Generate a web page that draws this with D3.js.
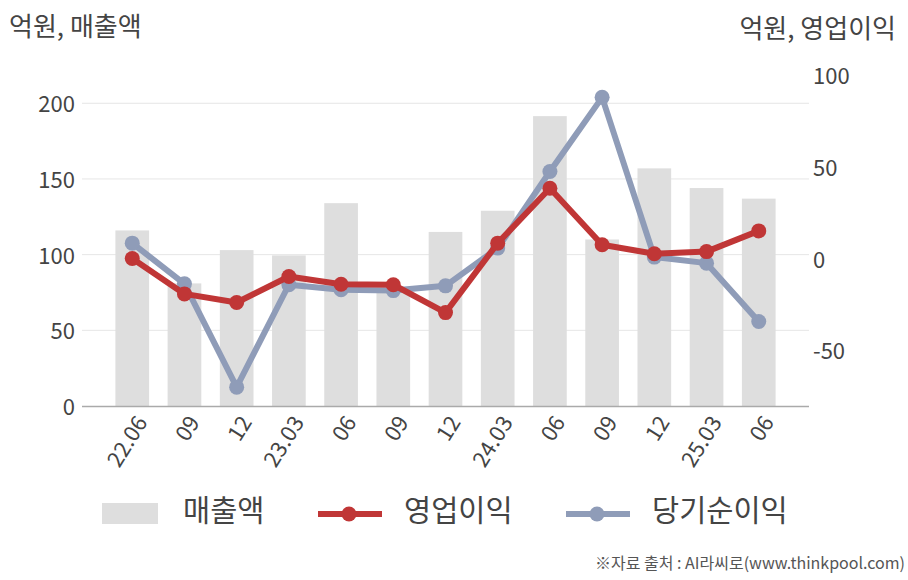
<!DOCTYPE html>
<html>
<head>
<meta charset="utf-8">
<title>매출액 / 영업이익 / 당기순이익</title>
<script src="https://cdn.jsdelivr.net/npm/d3@7/dist/d3.min.js"></script>
<style>
	html, body { margin: 0; padding: 0; background: white; }
	body { font-family: 'Noto Sans CJK KR', 'Noto Sans', sans-serif; }
	text { fill: #444; }
</style>
</head>
<body>
<div id="vis"></div>
<script>

var quarters = ["22.06", "09", "12", "23.03", "06", "09", "12", "24.03", "06", "09", "12", "25.03", "06"];
var sales = [116, 81, 103, 99.5, 134, 77, 115, 129, 191.5, 110, 157, 144, 137];
var opProfit = [0, -19.3, -24, -9.8, -14, -14.3, -29.5, 8.4, 38.4, 7.5, 2.6, 3.8, 15.1];
var netProfit = [8.4, -13.8, -70.2, -14.3, -17, -17.5, -14.9, 5.7, 47.5, 88, 0.8, -2.5, -34.4];
var leftTicks = [0, 50, 100, 150, 200];
var rightTicks = [-50, 0, 50, 100];

var width = 908, height = 580;
var plotLeft = 82, plotRight = 809, plotTop = 73, plotBottom = 406;

var svg = d3.select("#vis").append("svg")
	.attr("width", width)
	.attr("height", height);

var x = d3.scaleBand()
	.domain(d3.range(quarters.length))
	.range([plotLeft, plotRight])
	.paddingInner(0.355)
	.paddingOuter(0.64);

var yL = d3.scaleLinear().domain([0, 220]).range([plotBottom, plotTop]);
var yR = d3.scaleLinear().domain([-80.5, 101.3]).range([plotBottom, plotTop]);

// grid
svg.append("g")
	.selectAll("line")
	.data(leftTicks.slice(1))
	.join("line")
	.attr("x1", plotLeft)
	.attr("x2", plotRight)
	.attr("y1", d => yL(d))
	.attr("y2", d => yL(d))
	.attr("stroke", "#e6e6e6")
	.attr("stroke-width", 1);

// left axis labels
svg.append("g")
	.selectAll("text")
	.data(leftTicks)
	.join("text")
	.attr("x", 75)
	.attr("y", d => yL(d) + 3)
	.attr("text-anchor", "end")
	.attr("dominant-baseline", "middle")
	.style("font-size", "22px")
	.text(d => d);

// right axis labels
svg.append("g")
	.selectAll("text")
	.data(rightTicks)
	.join("text")
	.attr("x", 813)
	.attr("y", d => yR(d) + 3)
	.attr("text-anchor", "start")
	.attr("dominant-baseline", "middle")
	.style("font-size", "22px")
	.text(d => d);

// bars
svg.append("g")
	.selectAll("rect")
	.data(sales)
	.join("rect")
	.attr("x", (d, i) => x(i))
	.attr("width", x.bandwidth())
	.attr("y", d => yL(d))
	.attr("height", d => yL(0) - yL(d))
	.attr("fill", "#dedede");

// x axis line
svg.append("line")
	.attr("x1", plotLeft)
	.attr("x2", plotRight)
	.attr("y1", plotBottom + 0.5)
	.attr("y2", plotBottom + 0.5)
	.attr("stroke", "#aaaaaa")
	.attr("stroke-width", 1.5);

// x labels
svg.append("g")
	.selectAll("text")
	.data(quarters)
	.join("text")
	.attr("transform", (d, i) => "translate(" + (x(i) + x.bandwidth() / 2 + 11) + "," + (plotBottom + 13) + ") rotate(-58)")
	.attr("text-anchor", "end")
	.attr("dominant-baseline", "middle")
	.style("font-size", "22px")
	.text(d => d);

function drawLine(values, color) {
	var line = d3.line()
		.x((d, i) => x(i) + x.bandwidth() / 2)
		.y(d => yR(d));

	svg.append("path")
		.datum(values)
		.attr("d", line)
		.attr("fill", "none")
		.attr("stroke", color)
		.attr("stroke-width", 6)
		.attr("stroke-linejoin", "round");

	svg.append("g")
		.selectAll("circle")
		.data(values)
		.join("circle")
		.attr("cx", (d, i) => x(i) + x.bandwidth() / 2)
		.attr("cy", d => yR(d))
		.attr("r", 7.5)
		.attr("fill", color);
}

drawLine(netProfit, "#8f9cb8");
drawLine(opProfit, "#c03636");

// axis titles
svg.append("text")
	.attr("x", 9)
	.attr("y", 29)
	.attr("dominant-baseline", "middle")
	.style("font-size", "26px")
	.text("억원, 매출액");

svg.append("text")
	.attr("x", 896)
	.attr("y", 31)
	.attr("text-anchor", "end")
	.attr("dominant-baseline", "middle")
	.style("font-size", "26px")
	.text("억원, 영업이익");

// legend
var legend = svg.append("g");

legend.append("rect")
	.attr("x", 102)
	.attr("y", 503)
	.attr("width", 56)
	.attr("height", 21)
	.attr("fill", "#dedede");

legend.append("text")
	.attr("x", 183)
	.attr("y", 513)
	.attr("dominant-baseline", "middle")
	.style("font-size", "29.5px")
	.text("매출액");

var legendLines = [
	{label: "영업이익", color: "#c03636", x0: 318, tx: 404},
	{label: "당기순이익", color: "#8f9cb8", x0: 566, tx: 652}
];

legendLines.forEach(function(d) {
	legend.append("line")
		.attr("x1", d.x0)
		.attr("x2", d.x0 + 64)
		.attr("y1", 514)
		.attr("y2", 514)
		.attr("stroke", d.color)
		.attr("stroke-width", 6);
	legend.append("circle")
		.attr("cx", d.x0 + 31)
		.attr("cy", 514)
		.attr("r", 7.5)
		.attr("fill", d.color);
	legend.append("text")
		.attr("x", d.tx)
		.attr("y", 513)
		.attr("dominant-baseline", "middle")
		.style("font-size", "29.5px")
		.text(d.label);
});

svg.append("text")
	.attr("x", 905)
	.attr("y", 565)
	.attr("text-anchor", "end")
	.attr("dominant-baseline", "middle")
	.style("font-size", "16px")
	.style("fill", "#555")
	.text("※자료 출처 : AI라씨로(www.thinkpool.com)");

</script>
</body>
</html>
